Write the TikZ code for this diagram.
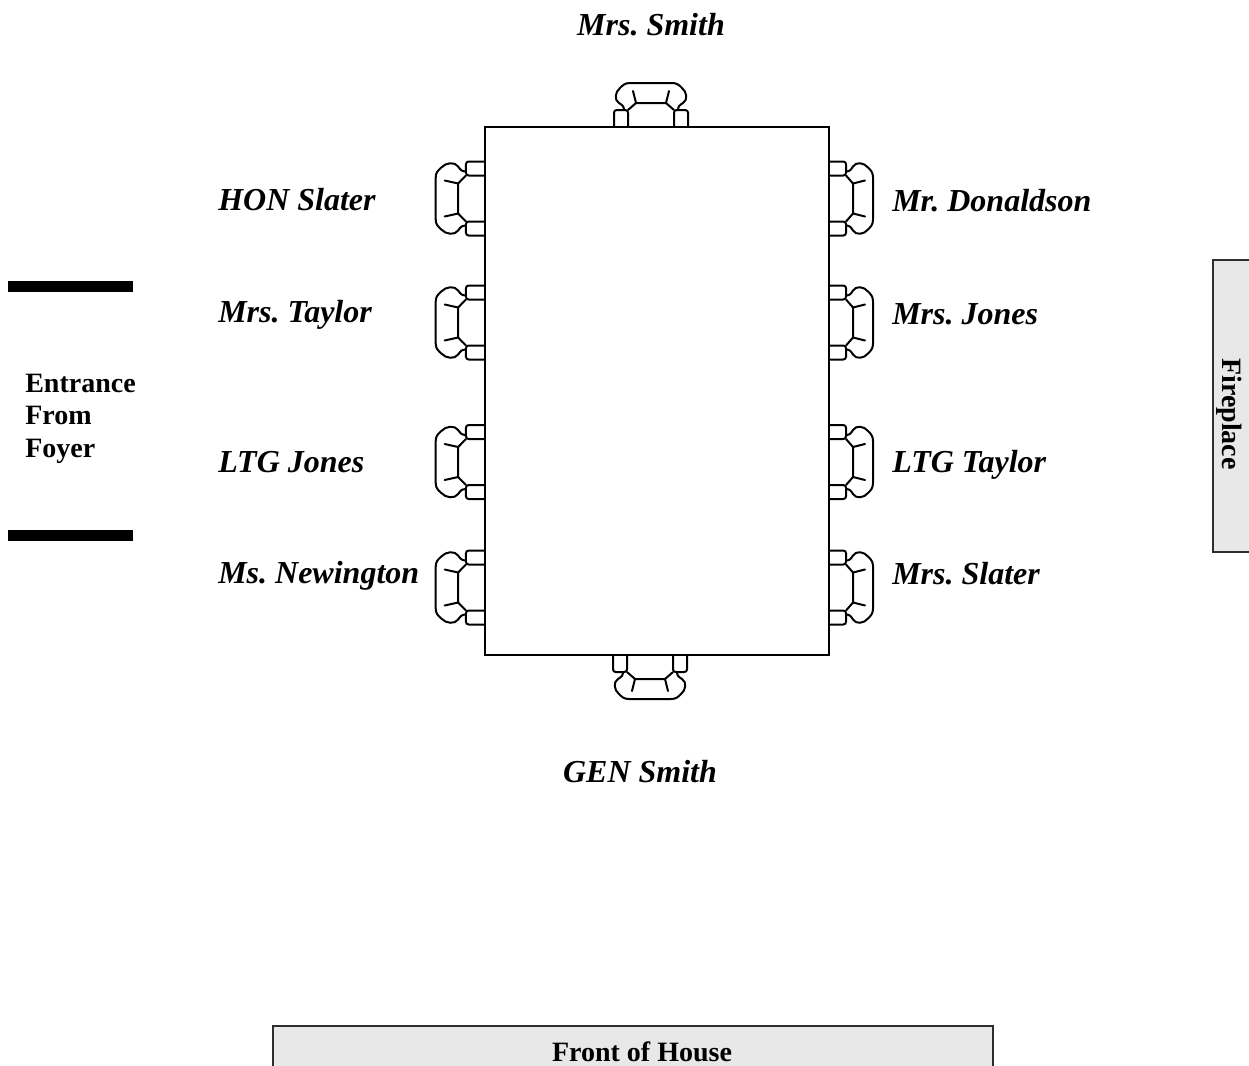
\documentclass[tikz,border=0pt]{standalone}
\usepackage{fontspec}
\setmainfont{Liberation Serif}
\usepackage{xcolor}
\definecolor{Col1}{RGB}{232,232,232}
\definecolor{Col2}{RGB}{45,45,45}
\usepackage{tikz}
\frenchspacing
\tikzstyle{Guest}=[anchor=base west,inner sep=0pt,
font=\fontsize{24}{28}\selectfont\bfseries\itshape]
\tikzstyle{GuestC}=[Guest,anchor=base]
\tikzstyle{Room}=[anchor=base west,inner sep=0pt,
font=\fontsize{21}{24}\selectfont\bfseries]
\tikzstyle{Chair}=[line width=1.5pt,line join=round,line cap=round]
\tikzstyle{Board}=[draw=Col2,fill=Col1,line width=1.2pt]
\tikzset{chair/.pic={
    \draw[Chair,rounded corners=2pt](-37,0)--(-37,-17)--(-23,-17)--(-23,0);
    \draw[Chair,rounded corners=2pt](23,0)--(23,-17)--(37,-17)--(37,0);
    \draw[Chair](-27,-17)..controls(-27,-21)and(-29,-22)..(-32,-24)
        ..controls(-37,-27)and(-36,-35)..(-31,-39)
        ..controls(-28,-42)and(-26,-44)..(-21,-44)--(21,-44)
        ..controls(26,-44)and(28,-42)..(31,-39)
        ..controls(36,-35)and(37,-27)..(32,-24)
        ..controls(29,-22)and(27,-21)..(27,-17);
    \draw[Chair](-23,-17)--(-15,-24)--(15,-24)--(23,-17);
    \draw[Chair](-15,-24)--(-18,-36);
    \draw[Chair](15,-24)--(18,-36);
}}
\begin{document}
\begin{tikzpicture}[x=.75pt,y=-.75pt]
            \useasboundingbox(0,0)rectangle(1249,1065);
            \clip(0,0)rectangle(1249,1065);
            % table and chairs
            \draw[line width=1.1pt](485,127)rectangle(829,655);
            \pic at(651,127){chair};
            \pic[rotate=180]at(650,655){chair};
            \foreach \y in {198.5,322.5,462,587.5}{
                \pic[rotate=90,yscale=1.12]at(485,\y){chair};
                \pic[rotate=-90]at(829,\y){chair};
            }
            % guests
            \node[GuestC](smithw)at(651,35){Mrs. Smith};
            \node[GuestC](smithm)at(640,782){GEN Smith};
            \node[Guest](slaterm)at(218,210){HON Slater};
            \node[Guest](taylorw)at(218,322){Mrs. Taylor};
            \node[Guest](jonesm)at(218,472){LTG Jones};
            \node[Guest](newington)at(218,583){Ms. Newington};
            \node[Guest](donaldson)at(892,211){Mr. Donaldson};
            \node[Guest](jonesw)at(892,324){Mrs. Jones};
            \node[Guest](taylorm)at(892,472){LTG Taylor};
            \node[Guest](slaterw)at(892,584){Mrs. Slater};
            % entrance
            \fill(8,281)rectangle(133,292);
            \fill(8,530)rectangle(133,541);
            \node[Room](entrance)at(25,392){Entrance};
            \node[Room](from)at(25,424){From};
            \node[Room](foyer)at(25,457){Foyer};
            % fireplace and front
            \draw[Board](1213,260)rectangle(1262,552);
            \node[Room,anchor=center,rotate=-90](fireplace)at(1229,414){Fireplace};
            \draw[Board](273,1026)rectangle(993,1080);
            \node[Room,anchor=base](front)at(642,1061){Front of House};
\end{tikzpicture}
\end{document}
